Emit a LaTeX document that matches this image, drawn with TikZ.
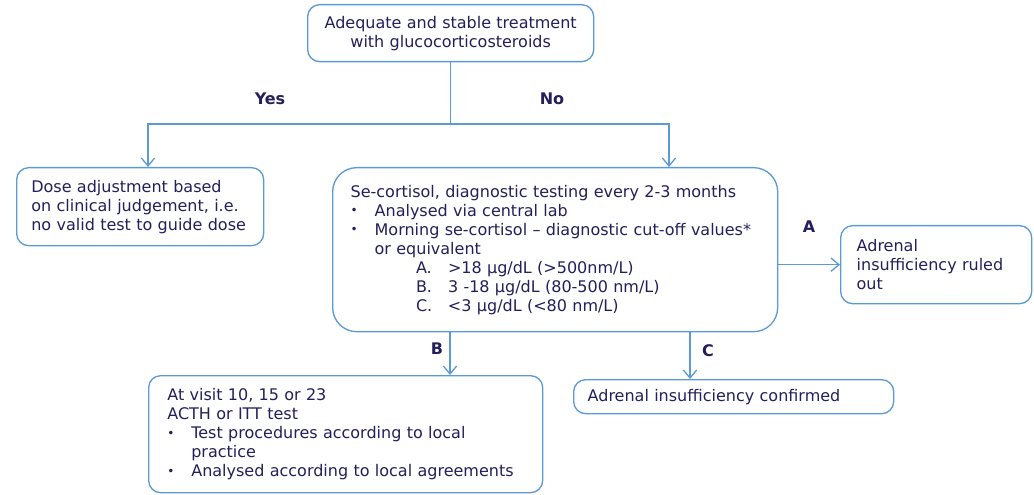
\documentclass[tikz,border=0pt]{standalone}
\usepackage{fontspec}
\setmainfont{DejaVu Sans}
\usetikzlibrary{arrows.meta}

\definecolor{flowline}{RGB}{91,155,213}
\definecolor{flowtext}{RGB}{35,31,92}
\newcommand{\bul}{\makebox[18pt][l]{\raisebox{1pt}{\fontsize{9}{9}\selectfont •}}}
\newcommand{\sub}[2]{\hspace*{49pt}\makebox[24pt][l]{#1}#2}

\tikzset{
  box/.style={draw=flowline,line width=1pt,rounded corners=9pt,text=flowtext,
    align=left,anchor=north west,inner ysep=2pt},
  link/.style={draw=flowline,line width=1pt},
  arr/.style={link,-{Straight Barb[length=6pt,width=10pt]}},
  lab/.style={text=flowtext,font=\fontsize{12}{14.25}\selectfont\bfseries}
}

\begin{document}
\begin{tikzpicture}[x=0.75pt,y=-0.75pt,font=\fontsize{12}{14.25}\selectfont]
\useasboundingbox (0,0) rectangle (1034,495);

\node[box,align=center,text width=190pt,inner xsep=12.25pt,minimum height=42.75pt] (treat) at (307,4)
  {Adequate and stable treatment\\with glucocorticosteroids};
\node[box,text width=163.25pt,inner xsep=11pt,minimum height=58.5pt] (dose) at (16,167)
  {Dose adjustment based\\on clinical judgement, i.e.\\no valid test to guide dose};
\node[box,rounded corners=18pt,text width=306.75pt,inner xsep=13.5pt,minimum height=123pt] (serum) at (332,167)
  {Se-cortisol, diagnostic testing every 2-3 months\\
   \bul Analysed via central lab\\
   \bul Morning se-cortisol – diagnostic cut-off values*\\
   \hspace*{18pt}or equivalent\\
   \sub{A.}{>18 µg/dL (>500nm/L)}\\
   \sub{B.}{3 -18 µg/dL (80-500 nm/L)}\\
   \sub{C.}{<3 µg/dL (<80 nm/L)}};
\node[box,text width=119.25pt,inner xsep=12pt,minimum height=58.5pt] (ruled) at (840,225)
  {Adrenal\\insufficiency ruled\\out};
\node[box,text width=267.5pt,inner xsep=14pt,minimum height=87.75pt] (acth) at (148,375)
  {At visit 10, 15 or 23\\
   ACTH or ITT test\\
   \bul Test procedures according to local\\
   \hspace*{18pt}practice\\
   \bul Analysed according to local agreements};
\node[box,text width=219pt,inner xsep=10.5pt,minimum height=25.5pt] (confirmed) at (573,379)
  {Adrenal insufficiency confirmed};

\coordinate (split) at (treat.south |- 0,124);
\coordinate (yes) at (148,124);
\coordinate (no) at (669,124);
\coordinate (bcol) at (450,0);
\coordinate (ccol) at (690,0);

\draw[link] (treat.south) -- (split);
\draw[arr] (split) -- (yes) -- (yes |- dose.north);
\draw[arr] (split) -- (no) -- (no |- serum.north);
\draw[arr] (serum.east |- ruled.west) -- (ruled.west);
\draw[arr] (bcol |- serum.south) -- (bcol |- acth.north);
\draw[arr] (ccol |- serum.south) -- (ccol |- confirmed.north);

\node[lab] (yeslab) at (270,99) {Yes};
\node[lab] (nolab) at (552,99) {No};
\node[lab] (alab) at (809,227) {A};
\node[lab] (blab) at (437,349) {B};
\node[lab] (clab) at (708,351) {C};
\end{tikzpicture}
\end{document}
